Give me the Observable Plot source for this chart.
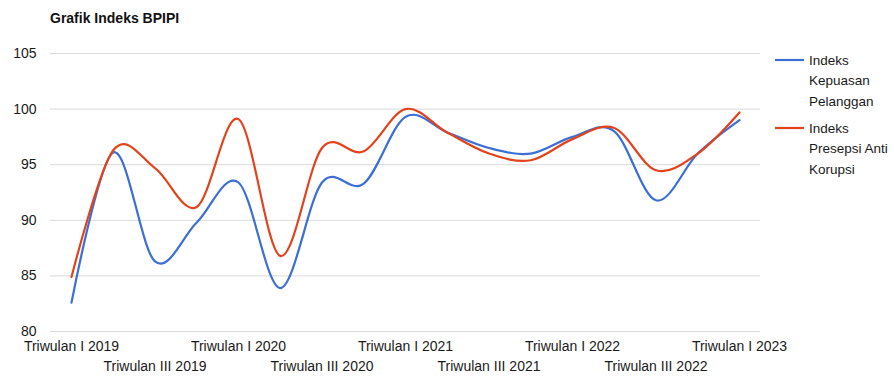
<!DOCTYPE html>
<html>
<head>
<meta charset="utf-8">
<script src="https://cdn.jsdelivr.net/npm/d3@7"></script>
<script src="https://cdn.jsdelivr.net/npm/@observablehq/plot@0.6"></script>
<style>
  html, body { margin: 0; padding: 0; background: #fff; }
  #chart svg { display: block; }
</style>
</head>
<body>
<div id="chart"></div>
<script>
const categories = [
  "Triwulan I 2019", "Triwulan II 2019", "Triwulan III 2019", "Triwulan IV 2019",
  "Triwulan I 2020", "Triwulan II 2020", "Triwulan III 2020", "Triwulan IV 2020",
  "Triwulan I 2021", "Triwulan II 2021", "Triwulan III 2021", "Triwulan IV 2021",
  "Triwulan I 2022", "Triwulan II 2022", "Triwulan III 2022", "Triwulan IV 2022",
  "Triwulan I 2023"
];
const kepuasanPelanggan = [82.6, 96.1, 86.3, 89.8, 93.4, 83.9, 93.4, 93.3, 99.3, 97.9, 96.5, 96.0, 97.5, 98.0, 91.8, 96.0, 99.0];
const presepsiAntiKorupsi = [84.9, 96.3, 94.7, 91.2, 99.1, 86.8, 96.5, 96.2, 100.0, 97.9, 96.0, 95.4, 97.3, 98.3, 94.5, 96.0, 99.7];
const seriesNames = ["Indeks Kepuasan Pelanggan", "Indeks Presepsi Anti Korupsi"];
const legendLines = [["Indeks", "Kepuasan", "Pelanggan"], ["Indeks", "Presepsi Anti", "Korupsi"]];
const seriesColors = ["#3c6fd3", "#e2431c"];
const yTicks = [80, 85, 90, 95, 100, 105];
const title = "Grafik Indeks BPIPI";

const rows = [];
categories.forEach((c, i) => {
  rows.push({cat: c, value: kepuasanPelanggan[i], series: seriesNames[0]});
  rows.push({cat: c, value: presepsiAntiKorupsi[i], series: seriesNames[1]});
});
const row1 = categories.filter((c, i) => i % 4 === 0);
const row2 = categories.filter((c, i) => i % 4 === 2);

const font = "'Liberation Sans', Arial, sans-serif";

const svg = Plot.plot({
  width: 894,
  height: 379,
  marginLeft: 50,
  marginRight: 134,
  marginTop: 53,
  marginBottom: 48,
  style: {fontFamily: font, fontSize: "14px", color: "#1a1a1a", background: "#fff"},
  x: {type: "point", domain: categories, range: [71, 739], padding: 0, round: false},
  y: {domain: [80, 105]},
  color: {domain: seriesNames, range: seriesColors},
  marks: [
    Plot.gridY(yTicks, {stroke: "#d9d9d9", strokeOpacity: 1, strokeWidth: 1}),
    Plot.axisY(yTicks, {tickSize: 0, tickPadding: 14, fontSize: 14, label: null}),
    Plot.axisX(row1, {tickSize: 0, tickPadding: 10, fontSize: 14, label: null}),
    Plot.axisX(row2, {tickSize: 0, tickPadding: 30, fontSize: 14, label: null}),
    Plot.line(rows, {x: "cat", y: "value", z: "series", stroke: "series", strokeWidth: 2.2, curve: "cardinal"})
  ]
});

const s = d3.select(svg);
s.append("text")
  .attr("x", 50).attr("y", 18).attr("dy", "0.35em").attr("text-anchor", "start")
  .attr("font-family", font).attr("font-size", 14).attr("font-weight", "bold").attr("fill", "#111")
  .text(title);

const legendTop = [60, 128];
legendLines.forEach((lines, k) => {
  const y0 = legendTop[k];
  s.append("line")
    .attr("x1", 775).attr("x2", 804).attr("y1", y0).attr("y2", y0)
    .attr("stroke", seriesColors[k]).attr("stroke-width", 2.2);
  lines.forEach((t, j) => {
    s.append("text")
      .attr("x", 809).attr("y", y0 + j * 20.5).attr("dy", "0.35em").attr("text-anchor", "start")
      .attr("font-family", font).attr("font-size", 13.5).attr("fill", "#1a1a1a")
      .text(t);
  });
});

document.getElementById("chart").appendChild(svg);
</script>
</body>
</html>
